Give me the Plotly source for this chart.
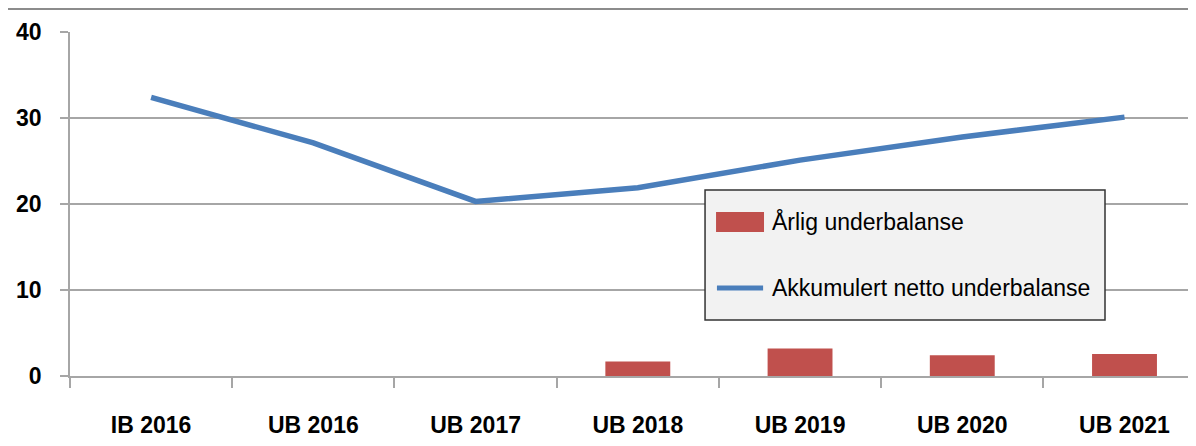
import plotly.graph_objects as go

categories = ["IB 2016", "UB 2016", "UB 2017", "UB 2018", "UB 2019", "UB 2020", "UB 2021"]
arlig = [None, None, None, 1.7, 3.2, 2.4, 2.55]
akkumulert = [32.4, 27.1, 20.3, 21.9, 25.1, 27.8, 30.1]
y_ticks = [0, 10, 20, 30, 40]
legend_names = ["Årlig underbalanse", "Akkumulert netto underbalanse"]

FONT = "Liberation Sans, Arial, sans-serif"
BAR_COLOR = "#c0504d"
LINE_COLOR = "#4a7ebb"
grid = "#a6a6a6"

fig = go.Figure()
fig.add_trace(go.Bar(
    x=categories, y=arlig, name=legend_names[0],
    marker=dict(color=BAR_COLOR, line=dict(width=0)), width=0.4,
    showlegend=False,
))
fig.add_trace(go.Scatter(
    x=categories, y=akkumulert, name=legend_names[1],
    mode="lines", line=dict(color=LINE_COLOR, width=5.5),
    showlegend=False,
))

fig.update_layout(
    width=1196, height=446,
    margin=dict(l=62, r=0, t=24, b=78),
    paper_bgcolor="white", plot_bgcolor="white",
    font=dict(family=FONT, color="black"),
    showlegend=False,
    xaxis=dict(
        type="category", range=[-0.5, 6.49],
        showline=True, linecolor=grid, linewidth=1.5,
        ticks="outside", tickson="boundaries", ticklen=10, tickcolor=grid, tickwidth=1.5,
        tickfont=dict(size=23, family=FONT, weight="bold"),
        ticklabelstandoff=28,
        showgrid=False,
    ),
    yaxis=dict(
        range=[0, 40], tickvals=y_ticks,
        showline=True, linecolor=grid, linewidth=1.5,
        ticks="outside", ticklen=8, tickcolor=grid, tickwidth=1.5,
        tickfont=dict(size=23, family=FONT, weight="bold"),
        ticklabelstandoff=14,
        showgrid=True, gridcolor=grid, gridwidth=1.5,
        zeroline=False,
    ),
)

# outer chart frame (top and left edges visible in the reference)
fig.add_shape(type="line", xref="paper", yref="paper",
              x0=-0.0556, x1=1.05, y0=1.067, y1=1.067,
              line=dict(color="#8c8c8c", width=2))
fig.add_shape(type="line", xref="paper", yref="paper",
              x0=-0.0556, x1=-0.0556, y0=1.067, y1=-0.3,
              line=dict(color="#8c8c8c", width=2))

# legend box (drawn to match the reference's large swatches)
fig.add_shape(type="rect", xref="paper", yref="paper",
              x0=0.560, x1=0.9127, y0=0.1628, y1=0.5407,
              fillcolor="#f2f2f2", line=dict(color="#333333", width=1.5))
fig.add_shape(type="rect", xref="paper", yref="paper",
              x0=0.5697, x1=0.6120, y0=0.4186, y1=0.4767,
              fillcolor=BAR_COLOR, line=dict(width=0))
fig.add_shape(type="line", xref="paper", yref="paper",
              x0=0.5705, x1=0.6112, y0=0.2558, y1=0.2558,
              line=dict(color=LINE_COLOR, width=5))
for name, yy in zip(legend_names, [0.4477, 0.2558]):
    fig.add_annotation(xref="paper", yref="paper", x=0.6173, y=yy,
                       text=name, showarrow=False, xanchor="left", yanchor="middle",
                       font=dict(size=23, family=FONT, color="black"))

fig.write_html("out.html")
